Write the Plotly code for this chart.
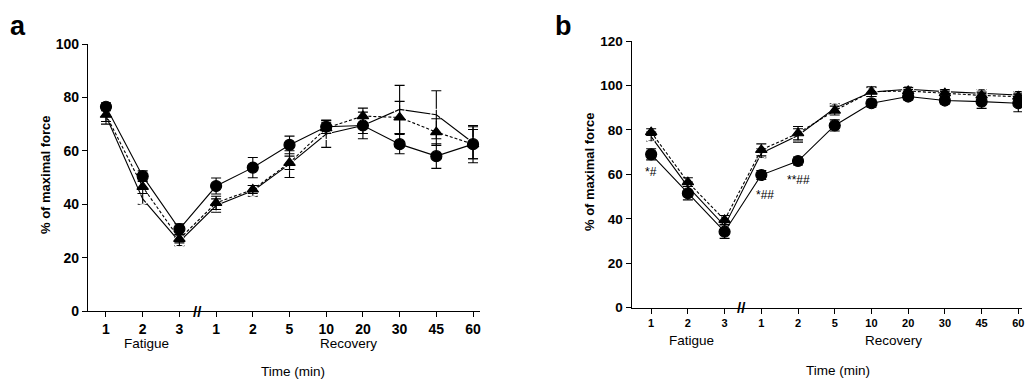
import plotly.graph_objects as go

# ---- data ----
time_labels = ["1", "2", "3", "1", "2", "5", "10", "20", "30", "45", "60"]

a_filled = [76.5, 50.5, 30.7, 46.8, 53.7, 62.2, 69.0, 69.5, 62.5, 58.0, 62.5]
a_filled_err = [1.5, 2.0, 2.0, 3.0, 3.8, 3.3, 2.5, 5.0, 3.6, 4.6, 7.0]
a_open = [73.0, 42.0, 26.0, 39.5, 45.0, 55.0, 66.3, 69.5, 75.5, 73.5, 63.0]
a_open_err = [3.0, 2.0, 1.5, 2.5, 2.0, 5.0, 5.0, 3.0, 9.0, 9.0, 6.0]
a_tri = [73.5, 46.5, 27.0, 40.5, 45.5, 55.5, 68.5, 73.0, 72.5, 67.0, 62.5]
a_tri_err = [2.5, 2.5, 1.5, 2.5, 1.5, 2.5, 2.0, 3.0, 6.0, 5.0, 5.5]

b_filled = [69.0, 51.5, 34.2, 59.7, 66.0, 82.0, 92.0, 95.0, 93.2, 92.7, 92.0]
b_filled_err = [2.5, 3.0, 3.0, 2.0, 1.8, 2.5, 1.8, 1.5, 1.5, 3.0, 3.8]
b_open = [77.0, 54.5, 36.8, 69.5, 77.5, 89.7, 97.0, 98.3, 97.2, 96.5, 95.7]
b_open_err = [2.0, 2.0, 2.0, 2.0, 3.0, 2.0, 2.0, 1.0, 1.0, 1.5, 1.5]
b_tri = [79.0, 56.5, 39.5, 71.0, 78.5, 88.7, 97.2, 97.5, 96.5, 95.5, 95.0]
b_tri_err = [1.5, 2.0, 2.0, 2.7, 3.0, 2.0, 2.2, 1.5, 1.5, 1.5, 1.5]

# significance labels for panel b: (x index, y value, text)
b_sig_x = [0.0, 3.1, 4.0]
b_sig_y = [61.2, 50.7, 57.5]
b_sig_text = ["*#", "*##", "**##"]

xi = list(range(len(time_labels)))
FONT = "Liberation Sans, Arial, sans-serif"

fig = go.Figure()


def add_series(y, err, xa, ya, symbol, dash, fill):
    fig.add_trace(go.Scatter(
        x=xi, y=y, xaxis=xa, yaxis=ya, mode="lines+markers",
        line=dict(color="black", width=1.1, dash=dash),
        marker=dict(symbol=symbol, size=11 if "circle" in symbol else 10,
                    color="black" if fill else "white",
                    line=dict(color="black", width=1.2)),
        error_y=dict(type="data", array=err, visible=True, color="black",
                     thickness=1.1, width=5),
        showlegend=False, hoverinfo="skip"))


for xa, ya, op, ope, tr, tre, fi, fie in [
    ("x", "y", a_open, a_open_err, a_tri, a_tri_err, a_filled, a_filled_err),
    ("x2", "y2", b_open, b_open_err, b_tri, b_tri_err, b_filled, b_filled_err),
]:
    add_series(op, ope, xa, ya, "circle-open", "solid", False)
    add_series(tr, tre, xa, ya, "triangle-up", "3px,2px", True)
    add_series(fi, fie, xa, ya, "circle", "solid", True)

axis_common = dict(showgrid=False, zeroline=False, showline=True,
                   linecolor="black", linewidth=1.3, ticks="outside",
                   ticklen=5, tickwidth=1.3, tickcolor="black")

fig.update_layout(
    width=1026, height=379, margin=dict(l=0, r=0, t=0, b=0, autoexpand=False),
    plot_bgcolor="white", paper_bgcolor="white",
    font=dict(family=FONT, color="black"),
    xaxis=dict(domain=[88 / 1026, 480 / 1026], anchor="y", range=[-0.49, 10.19],
               tickvals=xi, ticktext=["<b>%s</b>" % t for t in time_labels],
               tickfont=dict(size=14), **axis_common),
    yaxis=dict(domain=[68 / 379, 335 / 379], anchor="x", range=[0, 100],
               tickvals=[0, 20, 40, 60, 80, 100],
               ticktext=["<b>%d</b>" % v for v in [0, 20, 40, 60, 80, 100]],
               tickfont=dict(size=14), **axis_common),
    xaxis2=dict(domain=[631.7 / 1026, 1022 / 1026], anchor="y2", range=[-0.53, 10.1],
                tickvals=xi, ticktext=["<b>%s</b>" % t for t in time_labels],
                tickfont=dict(size=11), **axis_common),
    yaxis2=dict(domain=[71.3 / 379, 338 / 379], anchor="x2", range=[0, 120],
                tickvals=[0, 20, 40, 60, 80, 100, 120],
                ticktext=["<b>%d</b>" % v for v in [0, 20, 40, 60, 80, 100, 120]],
                tickfont=dict(size=13.5), **axis_common),
)

C = dict(xanchor="center", yanchor="middle", showarrow=False)
ann = []
# panel letters
ann.append(dict(text="<b>a</b>", x=18 / 1026, y=1 - 26 / 379, xref="paper", yref="paper",
                font=dict(size=27), **C))
ann.append(dict(text="<b>b</b>", x=563 / 1026, y=1 - 26 / 379, xref="paper", yref="paper",
                font=dict(size=27), **C))
# y titles
ann.append(dict(text="<b>% of maximal force</b>", x=46 / 1026, y=1 - 175 / 379,
                xref="paper", yref="paper", textangle=-90, font=dict(size=13), **C))
ann.append(dict(text="<b>% of maximal force</b>", x=590 / 1026, y=1 - 172 / 379,
                xref="paper", yref="paper", textangle=-90, font=dict(size=13), **C))
# group labels
for xr, ylab, ytime in [("x", 1 - 343 / 379, 1 - 371 / 379), ("x2", 1 - 340 / 379, 1 - 370 / 379)]:
    ann.append(dict(text="Fatigue", x=1.1, y=ylab, xref=xr, yref="paper",
                    font=dict(size=13.5), **C))
    ann.append(dict(text="Recovery", x=6.6, y=ylab, xref=xr, yref="paper",
                    font=dict(size=13.5), **C))
    ann.append(dict(text="Time (min)", x=5.1, y=ytime, xref=xr, yref="paper",
                    font=dict(size=13.5), **C))
# axis break marks
ann.append(dict(text="<b>//</b>", x=2.48, y=0, xref="x", yref="y",
                font=dict(size=15), **C))
ann.append(dict(text="<b>//</b>", x=2.47, y=0, xref="x2", yref="y2",
                font=dict(size=15), **C))
# significance labels
for sx, sy, st in zip(b_sig_x, b_sig_y, b_sig_text):
    ann.append(dict(text=st, x=sx, y=sy, xref="x2", yref="y2",
                    font=dict(size=12), **C))

fig.update_layout(annotations=ann)
fig.write_html("out.html", config={"displayModeBar": False},
               post_script="document.body.style.margin='0';document.body.style.overflow='hidden';")
